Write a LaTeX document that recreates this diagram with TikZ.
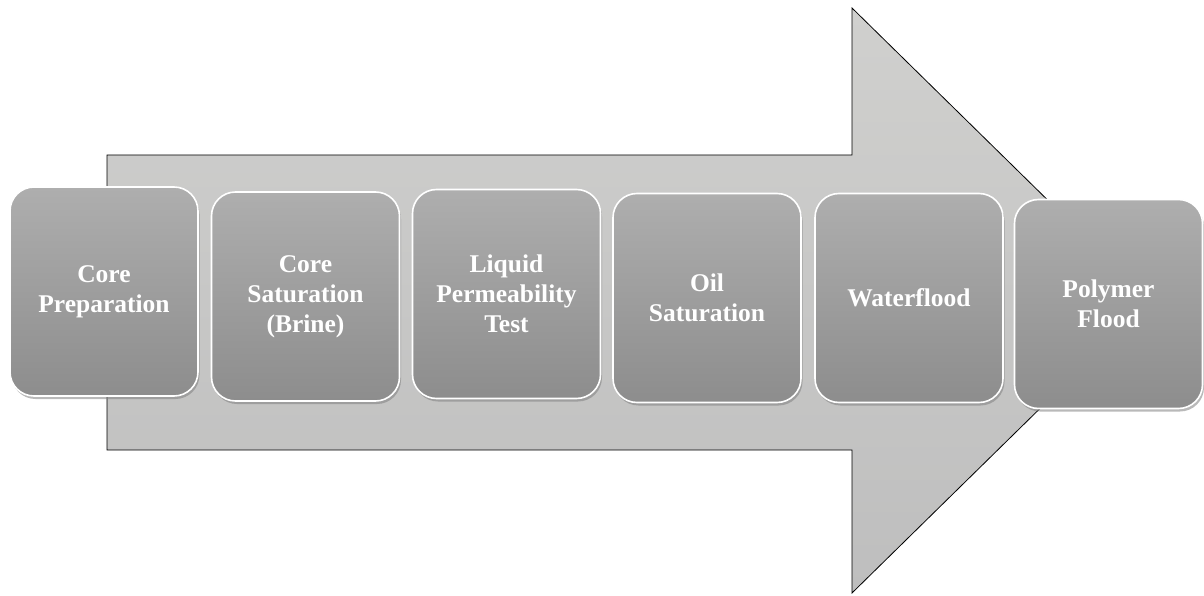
\documentclass[tikz,border=0pt]{standalone}
\usepackage{fontspec}
\setmainfont{Liberation Serif}
\usepackage{tikz}
\usetikzlibrary{shadows}

\definecolor{arrowtop}{RGB}{208,208,206}
\definecolor{arrowbot}{RGB}{190,190,190}
\definecolor{stagetop}{RGB}{174,174,174}
\definecolor{stagebot}{RGB}{141,141,141}

\tikzset{
  stage/.style={rectangle, rounded corners=24pt, minimum width=188pt, minimum height=209pt,
    draw=white, line width=1.6pt, top color=stagetop, bottom color=stagebot,
    text=white, align=center, font=\bfseries\fontsize{25.5}{30}\selectfont,
    drop shadow={shadow xshift=1.5pt, shadow yshift=-3pt, opacity=0.55}}
}

\begin{document}
\begin{tikzpicture}[x=1pt,y=-1pt]
\useasboundingbox (0,0) rectangle (1204,596);
% big process arrow
\draw[black, line width=0.8pt, top color=arrowtop, bottom color=arrowbot]
  (107,155) -- (852,155) -- (852,8) -- (1150,300.5) -- (852,593) -- (852,450) -- (107,450) -- cycle;
% the six steps
\foreach \name/\cx/\cy/\txt in {prep/104/291.5/{Core\\Preparation},
    brine/305.5/296.5/{Core\\Saturation\\(Brine)},
    perm/506.5/294/{Liquid\\Permeability\\Test},
    oil/707/298/{Oil\\Saturation},
    water/909/298/{Waterflood},
    poly/1108.5/304/{Polymer\\Flood}}
  \node[stage] (\name) at (\cx,\cy) {\txt};
\end{tikzpicture}
\end{document}
